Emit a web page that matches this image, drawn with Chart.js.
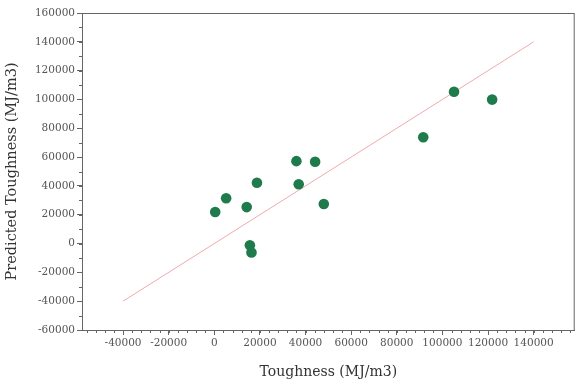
<!DOCTYPE html>
<html>
<head>
<meta charset="utf-8">
<script src="https://cdn.jsdelivr.net/npm/chart.js@4.4.1/dist/chart.umd.min.js"></script>
<style>
  html, body { margin: 0; padding: 0; background: #fff; }
  #wrap { width: 580px; height: 385px; }
</style>
</head>
<body>
<div id="wrap"><canvas id="c" width="580" height="385"></canvas></div>
<script>
// Data
const toughness = [400, 5200, 14200, 18700, 15600, 16300, 36000, 37000, 44200, 48000, 91600, 105100, 121800];
const predicted = [21900, 31400, 25300, 42200, -1200, -6200, 57200, 41100, 56800, 27400, 73800, 105300, 99900];
const idealX = [-40000, 140000];
const idealY = [-40000, 140000];
const xTickValues = [-40000, -20000, 0, 20000, 40000, 60000, 80000, 100000, 120000, 140000];
const yTickValues = [-60000, -40000, -20000, 0, 20000, 40000, 60000, 80000, 100000, 120000, 140000, 160000];
const xMinorStep = 4000;
const yMinorStep = 10000;

const serif = "'DejaVu Serif', 'Liberation Serif', serif";
const axisColor = '#666';

const framePlugin = {
  id: 'frame',
  afterDraw(chart) {
    const { ctx, chartArea: a, scales } = chart;
    ctx.save();
    ctx.strokeStyle = axisColor;
    ctx.lineWidth = 1;
    ctx.strokeRect(a.left + 0.5, a.top + 0.5, a.right - a.left - 1, a.bottom - a.top);
    const xs = scales.x, ys = scales.y;
    ctx.beginPath();
    for (let v = Math.ceil(xs.min / xMinorStep) * xMinorStep; v <= xs.max; v += xMinorStep) {
      const px = Math.round(xs.getPixelForValue(v)) + 0.5;
      ctx.moveTo(px, a.bottom);
      ctx.lineTo(px, a.bottom + 3);
    }
    for (let v = Math.ceil(ys.min / yMinorStep) * yMinorStep; v <= ys.max; v += yMinorStep) {
      const py = Math.round(ys.getPixelForValue(v)) + 0.5;
      ctx.moveTo(a.left, py);
      ctx.lineTo(a.left - 3, py);
    }
    ctx.stroke();
    ctx.restore();
  }
};

new Chart(document.getElementById('c'), {
  type: 'scatter',
  data: {
    datasets: [
      {
        type: 'line',
        data: idealX.map((x, i) => ({ x, y: idealY[i] })),
        borderColor: 'rgba(238,160,165,0.9)',
        borderWidth: 1,
        pointRadius: 0,
        fill: false,
        order: 2
      },
      {
        data: toughness.map((x, i) => ({ x, y: predicted[i] })),
        backgroundColor: '#1f7a4c',
        borderColor: '#1f7a4c',
        borderWidth: 0,
        pointRadius: 5.3,
        order: 1
      }
    ]
  },
  options: {
    responsive: false,
    animation: false,
    devicePixelRatio: 1,
    layout: { padding: { top: 13, right: 2, left: 0, bottom: 0 } },
    plugins: { legend: { display: false }, tooltip: { enabled: false } },
    scales: {
      x: {
        type: 'linear',
        min: -58000,
        max: 158000,
        afterBuildTicks: s => { s.ticks = xTickValues.map(v => ({ value: v })); },
        afterFit: s => { s.height = 55; },
        grid: { display: true, drawOnChartArea: false, drawTicks: true, tickLength: 5, tickColor: axisColor },
        border: { display: true, color: axisColor },
        ticks: { font: { family: serif, size: 10.5 }, color: '#555', maxRotation: 0, autoSkip: false, padding: 2, callback: v => String(v) },
        title: { display: true, text: 'Toughness (MJ/m3)', font: { family: serif, size: 14 }, color: '#333', padding: { top: 6 } }
      },
      y: {
        type: 'linear',
        min: -60000,
        max: 160000,
        afterBuildTicks: s => { s.ticks = yTickValues.map(v => ({ value: v })); },
        afterFit: s => { s.width = 82; },
        grid: { display: true, drawOnChartArea: false, drawTicks: true, tickLength: 5, tickColor: axisColor },
        border: { display: true, color: axisColor },
        ticks: { font: { family: serif, size: 10.5 }, color: '#555', autoSkip: false, padding: 2, callback: v => String(v) },
        title: { display: true, text: 'Predicted Toughness (MJ/m3)', font: { family: serif, size: 14.5 }, color: '#333', padding: { bottom: 2 } }
      }
    }
  },
  plugins: [framePlugin]
});
</script>
</body>
</html>
